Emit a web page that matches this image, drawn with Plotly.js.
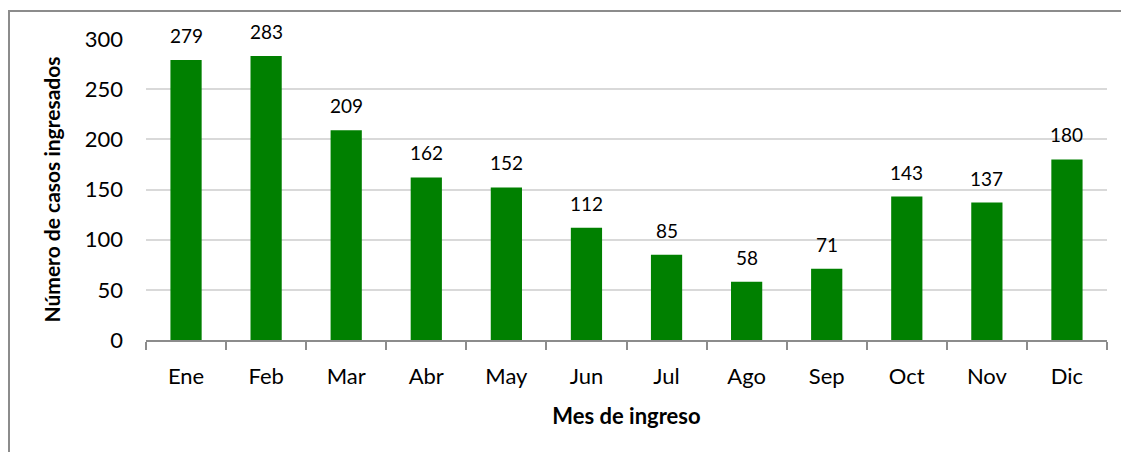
<!DOCTYPE html>
<html>
<head>
<meta charset="utf-8">
<script src="https://cdn.plot.ly/plotly-3.0.1.min.js"></script>
<style>
  html, body { margin: 0; padding: 0; background: #ffffff; }
  #chart { position: absolute; left: 0; top: 0; width: 1121px; height: 452px; }
  #frame { position: absolute; left: 8px; top: 10px; width: 1200px; height: 600px;
           border: 2px solid #8c8c8c; pointer-events: none; box-sizing: border-box; }
</style>
</head>
<body>
<div id="chart"></div>
<div id="frame"></div>
<script>
const months = ["Ene", "Feb", "Mar", "Abr", "May", "Jun", "Jul", "Ago", "Sep", "Oct", "Nov", "Dic"];
const cases = [279, 283, 209, 162, 152, 112, 85, 58, 71, 143, 137, 180];
const yTicks = [0, 50, 100, 150, 200, 250, 300];

const fontFam = "Lato, 'Open Sans', 'DejaVu Sans', sans-serif";

const trace = {
  type: "bar",
  x: months,
  y: cases,
  marker: { color: "#008000", line: { width: 0 } },
  hoverinfo: "x+y"
};

const annotations = months.map((m, i) => ({
  x: m, y: cases[i], xref: "x", yref: "y",
  text: String(cases[i]), showarrow: false,
  yanchor: "bottom", yshift: 11,
  font: { family: fontFam, size: 19, color: "#000000" }
}));

const layout = {
  width: 1121, height: 452,
  margin: { l: 146, r: 14, t: 39, b: 112 },
  paper_bgcolor: "#ffffff",
  plot_bgcolor: "#ffffff",
  bargap: 0.61,
  showlegend: false,
  font: { family: fontFam, color: "#000000" },
  xaxis: {
    type: "category",
    showgrid: false,
    showline: true, linecolor: "#8c8c8c", linewidth: 2,
    ticks: "outside", tickson: "boundaries", ticklen: 8, tickwidth: 2, tickcolor: "#8c8c8c",
    tickfont: { family: fontFam, size: 22, color: "#000000" },
    ticklabelstandoff: 16,
    title: { text: "<b>Mes de ingreso</b>", font: { family: fontFam, size: 22, color: "#000000" }, standoff: 20 },
    zeroline: false
  },
  yaxis: {
    range: [0, 300],
    tickvals: yTicks,
    showgrid: true, gridcolor: "#d9d9d9", gridwidth: 2,
    showline: false, zeroline: false,
    ticks: "",
    tickfont: { family: fontFam, size: 22, color: "#000000" },
    ticklabelstandoff: 22,
    title: { text: "<b>Número de casos ingresados</b>", font: { family: fontFam, size: 21, color: "#000000" }, standoff: 18 }
  },
  annotations: annotations
};

Plotly.newPlot("chart", [trace], layout, { displayModeBar: false, staticPlot: true });
</script>
</body>
</html>
